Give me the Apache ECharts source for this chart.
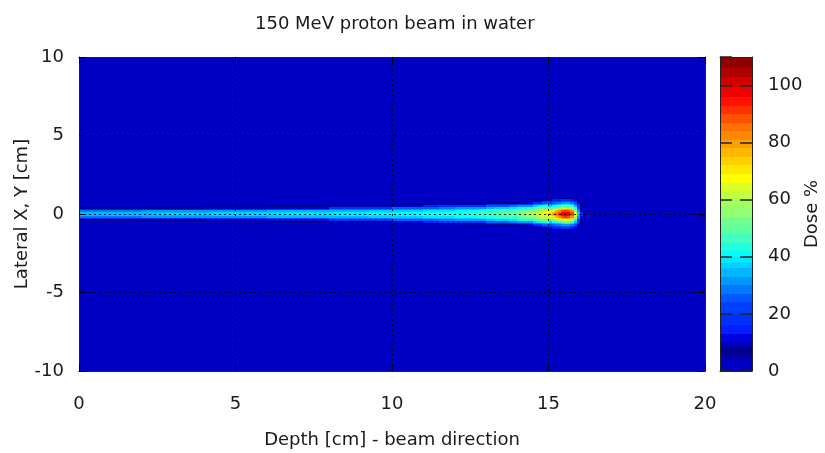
<!DOCTYPE html>
<html>
<head>
<meta charset="utf-8">
<script src="https://cdn.jsdelivr.net/npm/echarts@6/dist/echarts.min.js"></script>
<style>html,body{margin:0;padding:0;background:#fff;}#c{width:825px;height:453px;}</style>
</head>
<body>
<div id="c"></div>
<script>
// ---------------- data ----------------
const chartTitle = '150 MeV proton beam in water';
const xAxisName = 'Depth [cm] - beam direction';
const yAxisName = 'Lateral X, Y [cm]';
const cbName = 'Dose %';
const xRange = [0, 20];
const yRange = [-10, 10];
const cbRange = [0, 110];
const xTickStep = 5;
const yTickStep = 5;
const cbTickStep = 20;
const xGridAt = [5, 10, 15];
const yGridAt = [-5, 0, 5];

// depth grid: 0.25 cm bins up to 14 cm, 0.1 cm bins from 14 to 16.3 cm
const coarseBin = 0.25, coarseEnd = 14;
const fineBin = 0.1;

// central-axis dose (%) per depth bin, coarse part (0..14 cm)
const centralDoseCoarse = [
  34,34,34,35, 35,35,35,35, 35,35,36,36, 36,36,36,36,
  36,37,37,37, 37,37,37,37, 37,38,38,38, 38,38,38,38,
  39,39,39,39, 39,40,40,40, 40,41,41,41, 42,42,43,43,
  44,44,45,46, 47,48,49,51
];
// central-axis dose (%) per depth bin, fine part (14..16.3 cm)
const centralDoseFine = [
  53,54,55,57,58,60,62,64,66,69,73,79,85,92,98,101,100,92,66,36,14,5,1
];

// lateral rows (cm from axis), 0.1 cm thick
const lateralOffsetCm = [0,0.1,0.2,0.3,0.4,0.5,0.6,0.7,0.8,0.9,1.0,1.1,1.2];
const lateralRow = 0.1;
// lateral dose fraction (of central dose) by depth zone
const zoneStartCm = [0, 2, 4, 6, 8, 10, 11.5, 13, 14, 14.5, 14.8, 15.0];
const zoneFractions = [
  [1,0.97,0.84,0.38,0.17,0.05,0,0,0,0,0,0,0],
  [1,0.97,0.85,0.42,0.19,0.07,0,0,0,0,0,0,0],
  [1,0.97,0.87,0.52,0.24,0.11,0.03,0,0,0,0,0,0],
  [1,0.97,0.88,0.60,0.30,0.15,0.05,0,0,0,0,0,0],
  [1,0.97,0.89,0.70,0.45,0.22,0.09,0.02,0,0,0,0,0],
  [1,0.97,0.90,0.78,0.60,0.30,0.14,0.04,0,0,0,0,0],
  [1,0.97,0.91,0.82,0.68,0.40,0.20,0.08,0.02,0,0,0,0],
  [1,0.98,0.93,0.86,0.74,0.52,0.28,0.12,0.04,0,0,0,0],
  [1,0.98,0.94,0.88,0.76,0.56,0.34,0.17,0.07,0.02,0,0,0],
  [1,0.98,0.94,0.88,0.78,0.62,0.45,0.30,0.16,0.07,0.02,0,0],
  [1,0.97,0.93,0.87,0.77,0.63,0.49,0.36,0.25,0.13,0.06,0,0],
  [1,0.96,0.89,0.78,0.63,0.50,0.40,0.32,0.25,0.16,0.08,0.03,0]
];

// palette bands (gnuplot-like jet with banding)
const bandEdges = [0,4,5.5,8.5,10,13,16,20,24,27,30,33,36,38,40,42,45,48,51,54,57,60,63,66,69,72,75,78,81,84,87,90,93,96,100,103,106,110];
const bandColors = ['#0000c4','#0000ac','#00008f','#0000b8','#0000e0','#0020ff','#0030ff','#0040ff','#0058ff','#0078ff','#0098ff','#00b8ff','#00d0ff','#00e8ff','#00ffff','#20ffe0','#40ffc0','#60ffa0','#70ff90','#90ff70','#a0ff60','#c0ff40','#d8ff28','#ffff00','#ffe800','#ffd000','#ffb800','#ffa000','#ff8800','#ff7000','#ff5000','#ff3000','#ff1000','#f00000','#d00000','#b00000','#900000'];

// ---------------- build cells ----------------
const bins = [];
for (let i = 0; i < centralDoseCoarse.length; i++) bins.push([i*coarseBin, (i+1)*coarseBin, centralDoseCoarse[i]]);
for (let i = 0; i < centralDoseFine.length; i++) bins.push([coarseEnd + i*fineBin, coarseEnd + (i+1)*fineBin, centralDoseFine[i]]);

const cells = [[xRange[0], xRange[1], yRange[0], yRange[1], 0]]; // background (0 %)
bins.forEach(b => {
  let z = 0;
  for (let k = 0; k < zoneStartCm.length; k++) if (b[0] >= zoneStartCm[k] - 1e-9) z = k;
  const fr = zoneFractions[z];
  lateralOffsetCm.forEach((off, k) => {
    const v = Math.round(b[2] * fr[k]);
    if (v <= 0) return;
    cells.push([b[0], b[1], off - lateralRow/2, off + lateralRow/2, v]);
    if (off > 0) cells.push([b[0], b[1], -off - lateralRow/2, -off + lateralRow/2, v]);
  });
});

const cbCells = [];
const pieces = [];
for (let i = 0; i < bandColors.length; i++) {
  const lo = bandEdges[i], hi = bandEdges[i+1];
  pieces.push({gte: lo, lt: hi, color: bandColors[i]});
  cbCells.push([0, 1, lo, hi, (lo + hi) / 2]);
}
pieces[pieces.length-1].lte = cbRange[1]; delete pieces[pieces.length-1].lt;

// grid lines as segments [x0, y0, x1, y1] in data units
const gridSegs = [];
xGridAt.forEach(x => gridSegs.push([x, yRange[0], x, yRange[1]]));
yGridAt.forEach(y => gridSegs.push([xRange[0], y, xRange[1], y]));

function renderRect(params, api) {
  const p0 = api.coord([api.value(0), api.value(3)]);
  const p1 = api.coord([api.value(1), api.value(2)]);
  const x0 = Math.round(p0[0]), x1 = Math.round(p1[0]);
  const y0 = Math.round(p0[1]), y1 = Math.round(p1[1]);
  return {type: 'rect', shape: {x: x0, y: y0, width: x1 - x0, height: y1 - y0},
          style: {fill: api.visual('color')}};
}
function renderGridLine(params, api) {
  const a = api.coord([api.value(0), api.value(1)]);
  const b = api.coord([api.value(2), api.value(3)]);
  const crisp = v => Math.floor(v) + 0.5;
  const vertical = Math.abs(a[0] - b[0]) < 0.5;
  const shape = vertical
    ? {x1: crisp(a[0]), y1: a[1], x2: crisp(b[0]), y2: b[1]}
    : {x1: a[0], y1: crisp(a[1]), x2: b[0], y2: crisp(b[1])};
  return {type: 'line', shape: shape,
          style: {stroke: '#000', lineWidth: 1, lineDash: [2, 3], opacity: 0.85}};
}

const FONT = 'DejaVu Sans';
const TXT = '#1a1a1a';
const lab = {fontFamily: FONT, fontSize: 18, color: TXT};
const G = {left: 79, top: 57, width: 626, height: 314};
const CB = {left: 720, top: 57, width: 32, height: 314};
function solidAxis() { return {show: true, onZero: false, lineStyle: {color: '#222', width: 1}}; }

const chart = echarts.init(document.getElementById('c'), null, {renderer: 'canvas'});
chart.setOption({
  animation: false,
  backgroundColor: '#fff',
  title: {text: chartTitle, left: 250, top: 10,
          textStyle: {fontFamily: FONT, fontSize: 18, fontWeight: 'normal', color: TXT}},
  grid: [
    Object.assign({containLabel: false, outerBoundsMode: 'none'}, G),
    Object.assign({containLabel: false, outerBoundsMode: 'none'}, CB)
  ],
  xAxis: [
    {type: 'value', gridIndex: 0, min: xRange[0], max: xRange[1], interval: xTickStep, position: 'bottom', z: 5,
     axisLine: solidAxis(),
     axisTick: {show: true, inside: true, length: 7, lineStyle: {color: '#000'}},
     axisLabel: Object.assign({margin: 24}, lab),
     splitLine: {show: false},
     name: xAxisName, nameLocation: 'middle', nameGap: 60, nameMoveOverlap: false, nameTextStyle: lab},
    {type: 'value', gridIndex: 0, min: xRange[0], max: xRange[1], interval: xTickStep, position: 'top', z: 5,
     axisLine: solidAxis(),
     axisTick: {show: true, inside: true, length: 7, lineStyle: {color: '#000'}},
     axisLabel: {show: false}, splitLine: {show: false}},
    {type: 'value', gridIndex: 1, min: 0, max: 1, position: 'bottom', z: 5,
     axisLine: solidAxis(), axisTick: {show: false}, axisLabel: {show: false}, splitLine: {show: false}},
    {type: 'value', gridIndex: 1, min: 0, max: 1, position: 'top', z: 5,
     axisLine: solidAxis(), axisTick: {show: false}, axisLabel: {show: false}, splitLine: {show: false}}
  ],
  yAxis: [
    {type: 'value', gridIndex: 0, min: yRange[0], max: yRange[1], interval: yTickStep, position: 'left', z: 5,
     axisLine: solidAxis(),
     axisTick: {show: true, inside: true, length: 7, lineStyle: {color: '#000'}},
     axisLabel: Object.assign({margin: 15}, lab),
     splitLine: {show: false},
     name: yAxisName, nameLocation: 'middle', nameGap: 48, nameMoveOverlap: false, nameRotate: 90, nameTextStyle: lab},
    {type: 'value', gridIndex: 0, min: yRange[0], max: yRange[1], interval: yTickStep, position: 'right', z: 5,
     axisLine: solidAxis(),
     axisTick: {show: true, inside: true, length: 7, lineStyle: {color: '#000'}},
     axisLabel: {show: false}, splitLine: {show: false}},
    {type: 'value', gridIndex: 1, min: cbRange[0], max: cbRange[1], interval: cbTickStep, position: 'right', z: 5,
     axisLine: solidAxis(),
     axisTick: {show: true, inside: true, length: 12, lineStyle: {color: '#222', width: 1.5}},
     axisLabel: Object.assign({margin: 16, showMaxLabel: false}, lab),
     splitLine: {show: false},
     name: cbName, nameLocation: 'middle', nameGap: 51, nameMoveOverlap: false, nameRotate: 90, nameTextStyle: lab},
    {type: 'value', gridIndex: 1, min: cbRange[0], max: cbRange[1], interval: cbTickStep, position: 'left', z: 5,
     axisLine: solidAxis(),
     axisTick: {show: true, inside: true, length: 12, lineStyle: {color: '#222', width: 1.5}},
     axisLabel: {show: false}, splitLine: {show: false}}
  ],
  visualMap: {type: 'piecewise', show: false, dimension: 4, seriesIndex: [0, 1], pieces: pieces},
  series: [
    {type: 'custom', xAxisIndex: 0, yAxisIndex: 0, renderItem: renderRect, data: cells, clip: true, z: 1,
     encode: {x: [0, 1], y: [2, 3]}, silent: true, progressive: 0},
    {type: 'custom', xAxisIndex: 2, yAxisIndex: 2, renderItem: renderRect, data: cbCells, clip: true, z: 1,
     encode: {x: [0, 1], y: [2, 3]}, silent: true, progressive: 0},
    {type: 'custom', xAxisIndex: 0, yAxisIndex: 0, renderItem: renderGridLine, data: gridSegs, clip: false, z: 3,
     encode: {x: [0, 2], y: [1, 3]}, silent: true}
  ]
});
</script>
</body>
</html>
